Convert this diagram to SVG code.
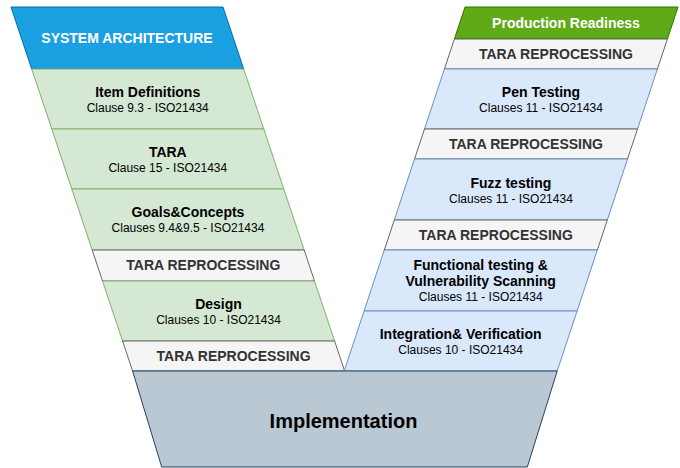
<svg xmlns="http://www.w3.org/2000/svg" width="680" height="468" viewBox="0 0 680 468">
<style>
text{font-family:"Liberation Sans",Arial,sans-serif;text-anchor:middle}
.hdr{font-size:14px;font-weight:bold;fill:#FFFFFF}
.ttl{font-size:14px;font-weight:bold;fill:#000000}
.sub{font-size:12px;fill:#000000}
.tara{font-size:14px;font-weight:bold;fill:#333333}
.big{font-size:20px;font-weight:bold;fill:#000000}
.blueh{fill:#1BA1E2;stroke:#006EAF;stroke-width:1}
.greenh{fill:#60A917;stroke:#2D7600;stroke-width:1}
.gitem{fill:#D5E8D4;stroke:#82B366;stroke-width:1}
.bitem{fill:#DAE8FC;stroke:#6C8EBF;stroke-width:1}
.gray{fill:#F5F5F5;stroke:#666666;stroke-width:1}
.impl{fill:#BAC8D3;stroke:#23445D;stroke-width:1}
</style>
<rect width="680" height="468" fill="#FFFFFF"/>
<g id="connectors"></g>
<g id="system-architecture">
<polygon class="blueh" points="11,7 223,7 243.7,69 31.7,69"/>
<text class="hdr" x="127" y="43">SYSTEM ARCHITECTURE</text>
</g>
<g id="item-definitions">
<polygon class="gitem" points="31.7,69 243.7,69 263.8,129 51.8,129"/>
<text class="ttl" x="147.7" y="96.5">Item Definitions</text>
<text class="sub" x="147.7" y="111.5">Clause 9.3 - ISO21434</text>
</g>
<g id="tara">
<polygon class="gitem" points="51.8,129 263.8,129 283.8,189 71.8,189"/>
<text class="ttl" x="167.8" y="156.5">TARA</text>
<text class="sub" x="167.8" y="171.5">Clause 15 - ISO21434</text>
</g>
<g id="goals-concepts">
<polygon class="gitem" points="71.8,189 283.8,189 304.2,250 92.2,250"/>
<text class="ttl" x="188" y="217">Goals&amp;Concepts</text>
<text class="sub" x="188" y="232">Clauses 9.4&amp;9.5 - ISO21434</text>
</g>
<g id="tara-reprocessing-l1">
<polygon class="gray" points="92.2,250 304.2,250 314.5,281 102.5,281"/>
<text class="tara" x="203.3" y="270">TARA REPROCESSING</text>
</g>
<g id="design">
<polygon class="gitem" points="102.5,281 314.5,281 334.6,341 122.6,341"/>
<text class="ttl" x="218.5" y="309">Design</text>
<text class="sub" x="218.5" y="323.5">Clauses 10 - ISO21434</text>
</g>
<g id="tara-reprocessing-l2">
<polygon class="gray" points="122.6,341 334.6,341 344.6,371 132.6,371"/>
<text class="tara" x="233.6" y="360.5">TARA REPROCESSING</text>
</g>
<g id="production-readiness">
<polygon class="greenh" points="465,7 678,7 667.4,39 454.4,39"/>
<text class="hdr" x="566" y="28">Production Readiness</text>
</g>
<g id="tara-reprocessing-r1">
<polygon class="gray" points="454.4,39 667.4,39 657.4,69 444.4,69"/>
<text class="tara" x="555.9" y="58.5">TARA REPROCESSING</text>
</g>
<g id="pen-testing">
<polygon class="bitem" points="444.4,69 657.4,69 637.5,129 424.5,129"/>
<text class="ttl" x="541" y="96.5">Pen Testing</text>
<text class="sub" x="541" y="111.5">Clauses 11 - ISO21434</text>
</g>
<g id="tara-reprocessing-r2">
<polygon class="gray" points="424.5,129 637.5,129 627.5,159 414.5,159"/>
<text class="tara" x="526" y="148.5">TARA REPROCESSING</text>
</g>
<g id="fuzz-testing">
<polygon class="bitem" points="414.5,159 627.5,159 607.3,220 394.3,220"/>
<text class="ttl" x="510.9" y="187.5">Fuzz testing</text>
<text class="sub" x="510.9" y="202.5">Clauses 11 - ISO21434</text>
</g>
<g id="tara-reprocessing-r3">
<polygon class="gray" points="394.3,220 607.3,220 597.3,250 384.3,250"/>
<text class="tara" x="495.8" y="239.5">TARA REPROCESSING</text>
</g>
<g id="functional-testing">
<polygon class="bitem" points="384.3,250 597.3,250 577.1,311 364.1,311"/>
<text class="ttl" x="480.7" y="270">Functional testing &amp;</text>
<text class="ttl" x="480.7" y="286">Vulnerability Scanning</text>
<text class="sub" x="480.7" y="301">Clauses 11 - ISO21434</text>
</g>
<g id="integration-verification">
<polygon class="bitem" points="364.1,311 577.1,311 557.2,371 344.2,371"/>
<text class="ttl" x="460.6" y="338.5">Integration&amp; Verification</text>
<text class="sub" x="460.6" y="353.5">Clauses 10 - ISO21434</text>
</g>
<g id="implementation">
<polygon class="impl" points="132.6,371 557.2,371 527.3,467 161.7,467"/>
<text class="big" x="343.5" y="428">Implementation</text>
</g>
</svg>
